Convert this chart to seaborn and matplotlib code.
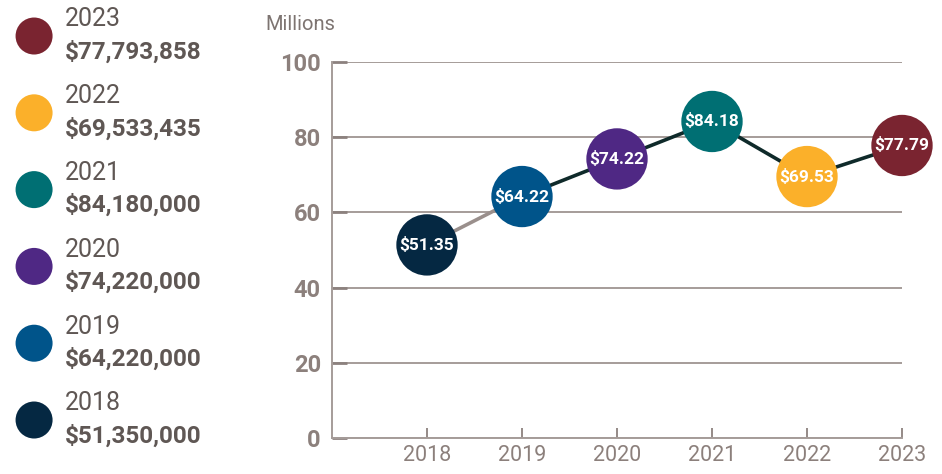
#!/usr/bin/env python
import seaborn as sns
import pandas as pd
from matplotlib import pyplot as plt

# revenue by year, dollars
years = [2018, 2019, 2020, 2021, 2022, 2023]
amounts = [51350000, 64220000, 74220000, 84180000, 69533435, 77793858]
colors = ["#052842", "#00548a", "#4f2884", "#006f73", "#fbb02a", "#7a2430"]
y_ticks = [0, 20, 40, 60, 80, 100]

df = pd.DataFrame({"year": years, "amount": amounts})
df["millions"] = df["amount"] / 1e6
df["label"] = df["year"].astype(str)
palette = dict(zip(df["label"], colors))

sns.set_theme(style="white")
plt.rcParams["font.family"] = ["Roboto", "DejaVu Sans"]

txt_dark = "#5f5754"
txt_axis = "#8c807c"
grid_col = "#a59c99"

fig = plt.figure(figsize=(9.42, 4.74), dpi=100)

# main chart
ax = fig.add_axes([332 / 942, 1 - 438 / 474, 570 / 942, 376 / 474])
ax.set_xlim(2017, 2023)
ax.set_ylim(0, 100)

# line: first segment grey, the rest dark
ax.plot(df["year"][:2], df["millions"][:2], color="#9a8f8c", lw=2.6, zorder=2)
ax.plot(df["year"][1:], df["millions"][1:], color="#0f2a2a", lw=2.6, zorder=2)

sns.scatterplot(data=df, x="year", y="millions", hue="label", palette=palette,
                s=1950, linewidth=0, legend=False, clip_on=False, zorder=3, ax=ax)

for _, r in df.iterrows():
    ax.text(r["year"], r["millions"], f"${r['millions']:.2f}", ha="center", va="center",
            color="white", fontsize=12.5, fontweight="bold", zorder=4, clip_on=False)

ax.set_yticks(y_ticks)
ax.set_yticklabels([str(t) for t in y_ticks], fontsize=17, fontweight="bold", color=txt_axis)
ax.set_xticks(years)
ax.set_xticklabels([str(y) for y in years], fontsize=15.5, fontweight="normal", color=txt_axis)
ax.tick_params(axis="y", direction="in", length=11, width=2, color="#8c817e", pad=8, left=True)
ax.tick_params(axis="x", direction="in", length=7, width=1.3, color="#8c817e", pad=5, bottom=True)
ax.grid(axis="y", color=grid_col, lw=1.4)
ax.set_axisbelow(True)
sns.despine(ax=ax, top=True, right=True)
for side in ["left", "bottom"]:
    ax.spines[side].set_color(grid_col)
    ax.spines[side].set_linewidth(1.4)
ax.set_xlabel("")
ax.set_ylabel("")

fig.text(265 / 942, 1 - 25 / 474, "Millions", fontsize=14.5, color="#7d7471",
         ha="left", va="center")

# legend column on the left
leg = fig.add_axes([0, 0, 0.3, 1])
leg.set_xlim(0, 282)
leg.set_ylim(-0.703, 5.469)
leg.axis("off")
pos = list(range(len(years)))
leg.scatter([34] * len(years), pos, c=colors, s=710, linewidths=0)
for i, (y, a) in enumerate(zip(years, amounts)):
    leg.annotate(str(y), (34, i), xytext=(22, 12), textcoords="offset points",
                 ha="left", va="center", fontsize=18, fontweight="normal", color=txt_dark)
    leg.annotate(f"${a:,}", (34, i), xytext=(22, -11.5), textcoords="offset points",
                 ha="left", va="center", fontsize=17.5, fontweight="bold", color=txt_dark)

fig.savefig("out.png", dpi=100)
